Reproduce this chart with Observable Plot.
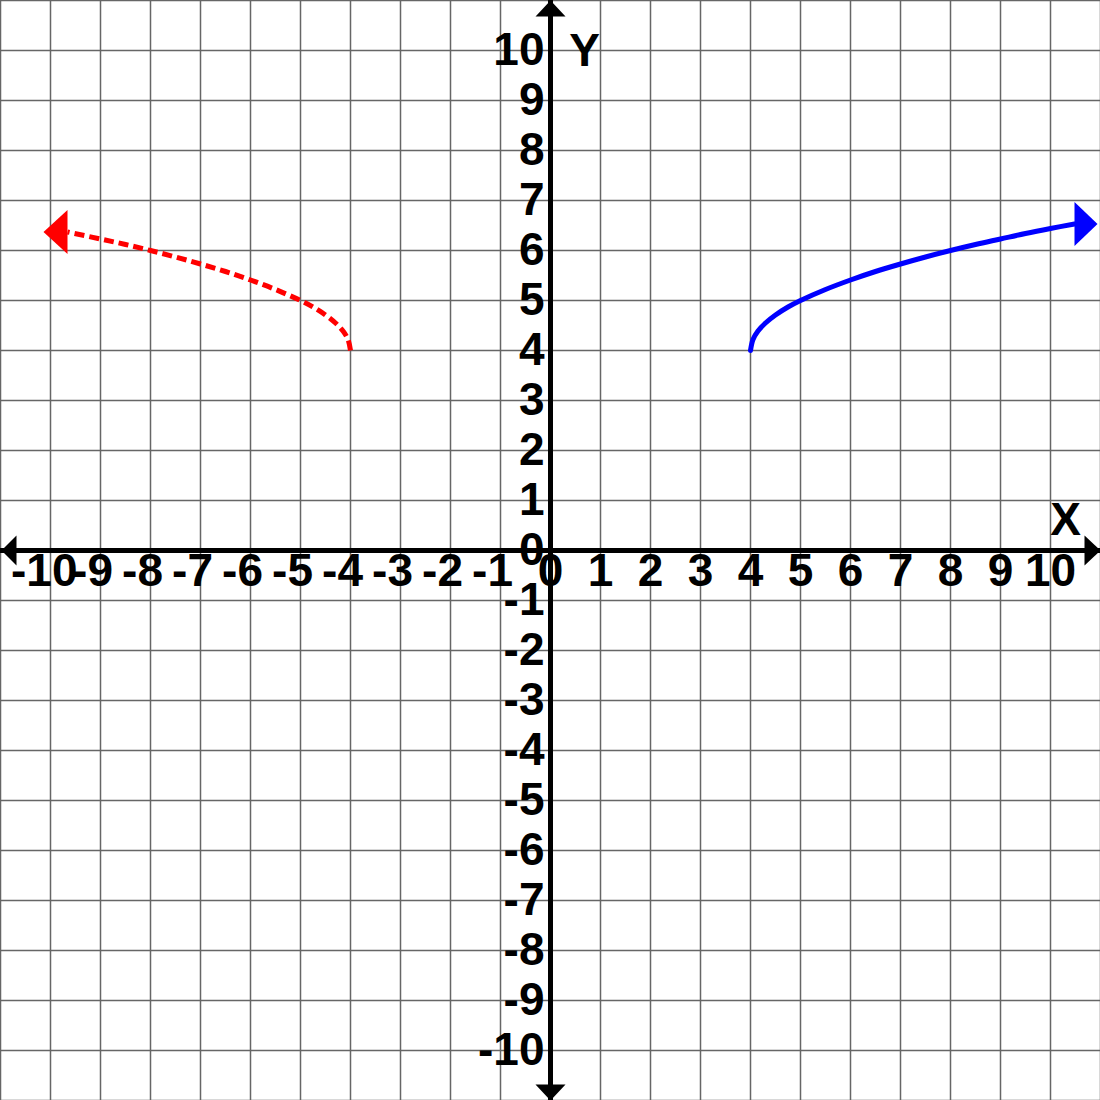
<!DOCTYPE html>
<html>
<head>
<meta charset="utf-8">
<script src="https://cdn.jsdelivr.net/npm/d3@7"></script>
<script src="https://cdn.jsdelivr.net/npm/@observablehq/plot@0.6"></script>
<style>
  html, body { margin: 0; padding: 0; background: #ffffff; }
  #chart svg { display: block; background: #ffffff; }
</style>
</head>
<body>
<div id="chart"></div>
<script>
// ---- data ----
const gridTicks = [-11,-10,-9,-8,-7,-6,-5,-4,-3,-2,-1,0,1,2,3,4,5,6,7,8,9,10,11];
const xTickLabels = [-10,-9,-8,-7,-6,-5,-4,-3,-2,-1,0,1,2,3,4,5,6,7,8,9,10];
const yTickLabels = [-10,-9,-8,-7,-6,-5,-4,-3,-2,-1,0,1,2,3,4,5,6,7,8,9,10];

// blue solid curve (right branch)
const blueX = [4, 4.05, 4.15, 4.3, 4.5, 4.75, 5, 5.5, 6, 6.5, 7, 7.5, 8, 8.5, 9, 9.5, 10, 10.48];
const blueY = [4, 4.22, 4.39, 4.55, 4.71, 4.87, 5, 5.22, 5.41, 5.58, 5.73, 5.87, 6, 6.12, 6.23, 6.34, 6.44, 6.53];

// red dashed curve (left branch)
const redX = [-4, -4.05, -4.15, -4.3, -4.5, -4.75, -5, -5.5, -6, -6.5, -7, -7.5, -8, -8.5, -9, -9.66];
const redY = [4, 4.22, 4.39, 4.55, 4.71, 4.87, 5, 5.22, 5.41, 5.58, 5.73, 5.87, 6, 6.12, 6.23, 6.37];

const axisEnds = [-11, 11];
const axisTitles = ["X", "Y"];

// ---- build tables ----
const blue = blueX.map((x, i) => ({x, y: blueY[i]}));
const red = redX.map((x, i) => ({x, y: redY[i]}));
const blueEnd = [blue[blue.length - 1]];
const redEnd = [red[red.length - 1]];

const xLab = xTickLabels.map(v => ({x: v, y: 0, label: String(v)}));
const yLab = yTickLabels.map(v => ({x: 0, y: v, label: String(v)}));

// custom symbols (pixel shapes)
const sym = pts => ({draw(ctx) { ctx.moveTo(pts[0][0], pts[0][1]); for (let i = 1; i < pts.length; i++) ctx.lineTo(pts[i][0], pts[i][1]); ctx.closePath(); }});
const curveArrowRight = sym([[23,0],[0,-22],[0,22]]);
const curveArrowLeft = sym([[-24,0],[0,-22],[0,22]]);
const axisLeft = sym([[1,0],[16,-15],[16,15]]);
const axisRight = sym([[0,0],[-16,-15],[-16,15]]);
const axisUp = sym([[0,0],[-15,16],[15,16]]);
const axisDown = sym([[0,0],[-15,-16],[15,-16]]);

const font = "'Liberation Sans', Arial, Helvetica, sans-serif";
const fs = 46;

const chart = Plot.plot({
  width: 1100,
  height: 1100,
  margin: 0,
  x: {domain: axisEnds, axis: null},
  y: {domain: axisEnds, axis: null},
  style: {background: "#ffffff", fontFamily: font},
  marks: [
    Plot.ruleX(gridTicks, {stroke: "#666666", strokeWidth: 1.5}),
    Plot.ruleY(gridTicks, {stroke: "#666666", strokeWidth: 1.5}),
    Plot.ruleX([0], {stroke: "#000", strokeWidth: 5}),
    Plot.ruleY([0], {stroke: "#000", strokeWidth: 5}),
    Plot.dot([{x: axisEnds[0], y: 0}], {x: "x", y: "y", symbol: axisLeft, fill: "#000"}),
    Plot.dot([{x: axisEnds[1], y: 0}], {x: "x", y: "y", symbol: axisRight, fill: "#000"}),
    Plot.dot([{x: 0, y: axisEnds[1]}], {x: "x", y: "y", symbol: axisUp, fill: "#000"}),
    Plot.dot([{x: 0, y: axisEnds[0]}], {x: "x", y: "y", symbol: axisDown, fill: "#000"}),
    // curves
    Plot.line(blue, {x: "x", y: "y", stroke: "#0000ff", strokeWidth: 5, curve: "catmull-rom", strokeLinecap: "round"}),
    Plot.line(red, {x: "x", y: "y", stroke: "#ff0000", strokeWidth: 5, curve: "catmull-rom", strokeDasharray: "10 5", strokeLinecap: "butt"}),
    Plot.dot(blueEnd, {x: "x", y: "y", symbol: curveArrowRight, fill: "#0000ff"}),
    Plot.dot(redEnd, {x: "x", y: "y", symbol: curveArrowLeft, fill: "#ff0000"}),
    // x tick labels
    Plot.text(xLab.filter(d => d.x >= 0), {x: "x", y: "y", text: "label", fontSize: fs, fontWeight: "bold", fill: "#000", textAnchor: "middle", dy: 21}),
    Plot.text(xLab.filter(d => d.x < 0 && d.x > -10), {x: "x", y: "y", text: "label", fontSize: fs, fontWeight: "bold", fill: "#000", textAnchor: "end", dx: 12.5, dy: 21}),
    Plot.text(xLab.filter(d => d.x <= -10), {x: "x", y: "y", text: "label", fontSize: fs, fontWeight: "bold", fill: "#000", textAnchor: "end", dx: 27, dy: 21}),
    // y tick labels
    Plot.text(yLab, {x: "x", y: "y", text: "label", fontSize: fs, fontWeight: "bold", fill: "#000", textAnchor: "end", dx: -6, dy: 0}),
    // axis titles
    Plot.text([axisTitles[0]], {frameAnchor: "right", text: d => d, fontSize: fs, fontWeight: "bold", fill: "#000", textAnchor: "middle", dx: -35, dy: -30}),
    Plot.text([axisTitles[1]], {frameAnchor: "top", text: d => d, fontSize: fs, fontWeight: "bold", fill: "#000", textAnchor: "middle", dx: 34, dy: 33})
  ]
});
document.getElementById("chart").append(chart);
</script>
</body>
</html>
